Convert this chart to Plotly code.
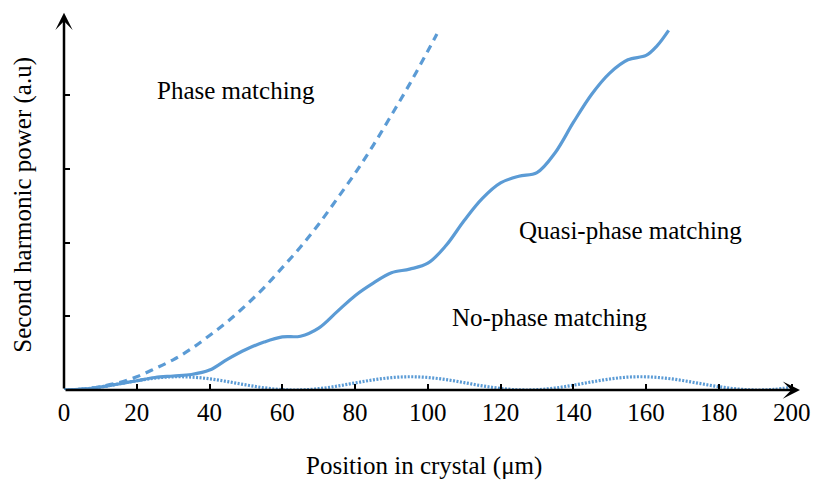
import plotly.graph_objects as go

# ---- data ----
pm_x = [0, 5, 10, 15, 20, 25, 30, 35, 40, 45, 50, 55, 60, 65, 70, 75, 80, 85, 90, 95, 100, 102.5]
pm_y = [0, 0.012, 0.046, 0.10, 0.18, 0.29, 0.41, 0.56, 0.74, 0.93, 1.15, 1.39, 1.66, 1.94,
        2.25, 2.59, 2.94, 3.32, 3.73, 4.15, 4.60, 4.83]

qpm_x = [0, 5, 10, 15, 20, 25, 30, 35, 40, 45, 50, 55, 60, 65, 70, 75, 80, 85, 90, 95, 100,
         105, 110, 115, 120, 125, 130, 135, 140, 145, 150, 155, 160, 163, 166.2]
qpm_y = [0, 0.011, 0.041, 0.082, 0.126, 0.17, 0.19, 0.21, 0.27, 0.42, 0.55, 0.65, 0.72, 0.73,
         0.84, 1.06, 1.28, 1.45, 1.59, 1.64, 1.72, 1.96, 2.30, 2.60, 2.81, 2.90, 2.95, 3.22,
         3.63, 4.01, 4.30, 4.48, 4.54, 4.67, 4.88]

npm_x = [0, 5, 10, 15, 20, 25, 30, 35, 40, 45, 50, 55, 60, 65, 70, 75, 80, 85, 90, 95, 100,
         105, 110, 115, 120, 125, 130, 135, 140, 145, 150, 155, 160, 165, 170, 175, 180, 185,
         190, 195, 200]
npm_y = [0, 0.011, 0.041, 0.082, 0.126, 0.161, 0.179, 0.175, 0.152, 0.113, 0.069, 0.030, 0.005,
         0.001, 0.018, 0.052, 0.096, 0.137, 0.168, 0.180, 0.170, 0.141, 0.100, 0.056, 0.021,
         0.002, 0.004, 0.027, 0.065, 0.109, 0.149, 0.175, 0.179, 0.162, 0.129, 0.086, 0.045,
         0.014, 0.000, 0.008, 0.037]

x_ticks = [0, 20, 40, 60, 80, 100, 120, 140, 160, 180, 200]
y_ticks = [1, 2, 3, 4]

labels = ["Phase matching", "Quasi-phase matching", "No-phase matching"]

BLUE = "#5B9BD5"
FONT = "Liberation Serif"

fig = go.Figure()
fig.add_trace(go.Scatter(x=npm_x, y=npm_y, mode="lines", line=dict(color=BLUE, width=3.2, dash="2px,1.5px", shape="spline")))
fig.add_trace(go.Scatter(x=qpm_x, y=qpm_y, mode="lines", line=dict(color=BLUE, width=3.2, shape="spline")))
fig.add_trace(go.Scatter(x=pm_x, y=pm_y, mode="lines", line=dict(color=BLUE, width=3.2, dash="8px,6px", shape="spline")))

XMAX = 203.4
YMAX = 5.156

annotations = [
    # axis arrows
    dict(x=202.3, y=0, ax=0, ay=0, xref="x", yref="y", axref="x", ayref="y", text="",
         showarrow=True, arrowhead=3, arrowsize=1.15, arrowwidth=2.5, arrowcolor="black", standoff=0),
    dict(x=0, y=5.12, ax=0, ay=0, xref="x", yref="y", axref="x", ayref="y", text="",
         showarrow=True, arrowhead=3, arrowsize=1.15, arrowwidth=2.5, arrowcolor="black", standoff=0),
    # curve labels
    dict(x=47.4, y=4.06, xref="x", yref="y", text=labels[0], showarrow=False,
         font=dict(family=FONT, size=25, color="black")),
    dict(x=155.7, y=2.16, xref="x", yref="y", text=labels[1], showarrow=False,
         font=dict(family=FONT, size=25, color="black")),
    dict(x=133.7, y=0.98, xref="x", yref="y", text=labels[2], showarrow=False,
         font=dict(family=FONT, size=25, color="black")),
    # axis titles
    dict(x=0.4866, y=-0.242, xref="paper", yref="paper", text="Position in crystal (μm)", showarrow=False,
         font=dict(family=FONT, size=25, color="black")),
    dict(x=-0.0773, y=0.487, xref="paper", yref="paper", text="Second harmonic power (a.u)", showarrow=False,
         textangle=-90, font=dict(family=FONT, size=25, color="black")),
]

fig.update_layout(
    width=820, height=483,
    margin=dict(l=64, r=12, t=10, b=93, pad=0),
    paper_bgcolor="white", plot_bgcolor="white",
    showlegend=False,
    font=dict(family=FONT, size=25, color="black"),
    annotations=annotations,
    xaxis=dict(range=[0, XMAX], tickvals=x_ticks, ticks="inside", ticklen=6, tickwidth=1.5,
               tickcolor="black", showline=False, showgrid=False, zeroline=False,
               tickfont=dict(family=FONT, size=25, color="black"), ticklabelstandoff=5),
    yaxis=dict(range=[0, YMAX], tickvals=y_ticks, ticks="inside", ticklen=6, tickwidth=1.5,
               tickcolor="black", showline=False, showgrid=False, zeroline=False,
               showticklabels=False),
)

fig.write_html("out.html")
